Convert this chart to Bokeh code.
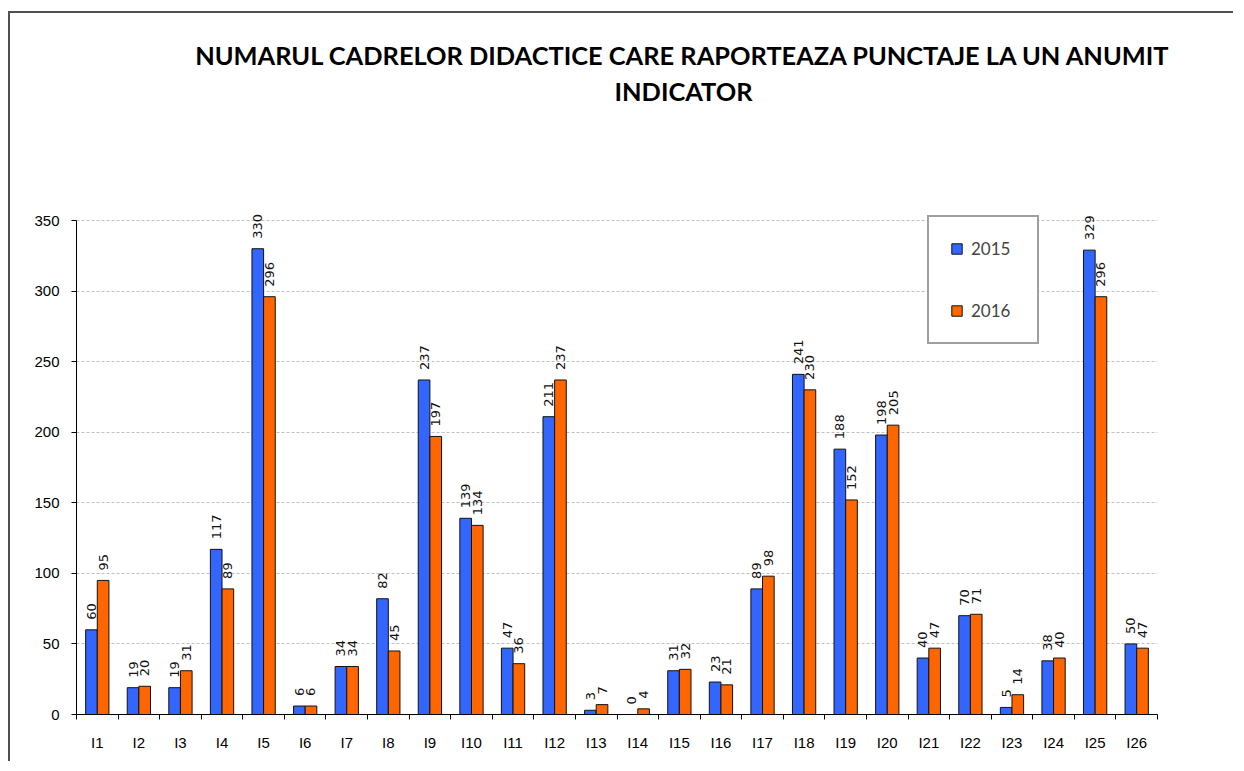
import numpy as np
from bokeh.plotting import figure
from bokeh.models import (ColumnDataSource, Range1d, FixedTicker,
                          Legend, LegendItem, Label, LabelSet)
from bokeh.core.properties import value
from bokeh.transform import dodge
from bokeh.embed import file_html
from bokeh.resources import INLINE

categories = ["I1", "I2", "I3", "I4", "I5", "I6", "I7", "I8", "I9", "I10", "I11", "I12", "I13",
              "I14", "I15", "I16", "I17", "I18", "I19", "I20", "I21", "I22", "I23", "I24", "I25", "I26"]
v2015 = [60, 19, 19, 117, 330, 6, 34, 82, 237, 139, 47, 211, 3, 0, 31, 23, 89, 241, 188, 198, 40, 70, 5, 38, 329, 50]
v2016 = [95, 20, 31, 89, 296, 6, 34, 45, 197, 134, 36, 237, 7, 4, 32, 21, 98, 230, 152, 205, 47, 71, 14, 40, 296, 47]
series = ["2015", "2016"]
y_ticks = [0, 50, 100, 150, 200, 250, 300, 350]
title_lines = ["NUMARUL CADRELOR DIDACTICE CARE RAPORTEAZA PUNCTAJE LA UN ANUMIT", "INDICATOR"]

BLUE = "#3366FF"
ORANGE = "#FF6600"

n = len(categories)
pos = [i + 0.5 for i in range(n)]
src = ColumnDataSource(dict(x=pos, cat=categories, a=v2015, b=v2016,
                            la=[str(v) for v in v2015], lb=[str(v) for v in v2016]))

# layout (canvas coordinates)
W, H = 1225, 750
MB_L, MB_T, MB_R, MB_B = 66, 9, 50, 49
frame_h = H - MB_T - MB_B
frame_w = W - MB_L - MB_R
axis_h_px = 494.0   # pixel height of 0..350
axis_w_px = 1081.0  # pixel width of the 26 categories
y_top = 350 * frame_h / axis_h_px
x_end = n * frame_w / axis_w_px

p = figure(width=W, height=H, output_backend="svg", toolbar_location=None,
           x_range=Range1d(0, x_end), y_range=Range1d(0, y_top),
           min_border_left=MB_L, min_border_top=MB_T, min_border_right=MB_R,
           min_border_bottom=MB_B)
p.title.visible = False
p.styles = {"margin-left": "8px", "margin-top": "11px",
            "border-left": "2px solid #505050", "border-top": "2px solid #505050"}
p.outline_line_color = None
p.background_fill_color = "white"
p.border_fill_color = "white"

# grid
p.xgrid.grid_line_color = None
p.ygrid.grid_line_color = "#c0c0c0"
p.ygrid.grid_line_dash = "3 2"
p.ygrid.grid_line_width = 1
p.ygrid.ticker = FixedTicker(ticks=y_ticks)
p.ygrid.cross_bounds = (0, n)

# x axis
xa = p.xaxis[0]
xa.bounds = (0, n)
xa.ticker = FixedTicker(ticks=pos, minor_ticks=list(range(n + 1)))
xa.major_label_overrides = {float(x): c for x, c in zip(pos, categories)}
xa.major_tick_line_color = None
xa.major_tick_out = 0
xa.major_tick_in = 0
xa.minor_tick_line_color = "black"
xa.minor_tick_out = 5
xa.minor_tick_in = 0
xa.axis_line_color = "black"
xa.major_label_text_font = "Liberation Sans"
xa.major_label_text_font_size = "15px"
xa.major_label_text_color = "black"
xa.major_label_standoff = 14

# y axis
ya = p.yaxis[0]
ya.ticker = FixedTicker(ticks=y_ticks)
ya.bounds = (0, 350)
ya.major_tick_out = 5
ya.major_tick_in = 0
ya.minor_tick_line_color = None
ya.axis_line_color = "black"
ya.major_label_text_font = "Liberation Sans"
ya.major_label_text_font_size = "15px"
ya.major_label_text_color = "black"
ya.major_label_standoff = 12

bw = 0.28
r1 = p.vbar(x=dodge("x", -bw / 2, range=p.x_range), top="a", width=bw, source=src,
            fill_color=BLUE, line_color="#111111", line_width=1)
r2 = p.vbar(x=dodge("x", bw / 2, range=p.x_range), top="b", width=bw, source=src,
            fill_color=ORANGE, line_color="#111111", line_width=1)

for col, lab, off in (("a", "la", -bw / 2), ("b", "lb", bw / 2)):
    ls = LabelSet(x=dodge("x", off, range=p.x_range), y=col, text=lab, source=src,
                  angle=np.pi / 2, text_align="left", text_baseline="middle",
                  x_offset=0, y_offset=10,
                  text_font=value("DejaVu Sans"), text_font_size=value("13px"),
                  text_color="#111111")
    p.add_layout(ls)

legend = Legend(items=[LegendItem(label=series[0], renderers=[r1]),
                       LegendItem(label=series[1], renderers=[r2])],
                location=(851, 370), orientation="vertical",
                padding=21, spacing=41, label_height=20, label_width=45,
                glyph_width=13, glyph_height=13, label_standoff=8,
                label_text_font="Lato", label_text_font_size="17px",
                border_line_color="#404040", border_line_width=2,
                background_fill_color="white", background_fill_alpha=1.0,
                margin=0)
p.add_layout(legend, "center")

for txt, yy in zip(title_lines, (660, 624)):
    p.add_layout(Label(x=607, y=yy, x_units="screen", y_units="screen", text=txt,
                       text_align="center", text_baseline="middle",
                       text_font="Lato", text_font_style="bold",
                       text_font_size="25.4px", text_color="black"))

open("out.html", "w").write(file_html(p, INLINE))
